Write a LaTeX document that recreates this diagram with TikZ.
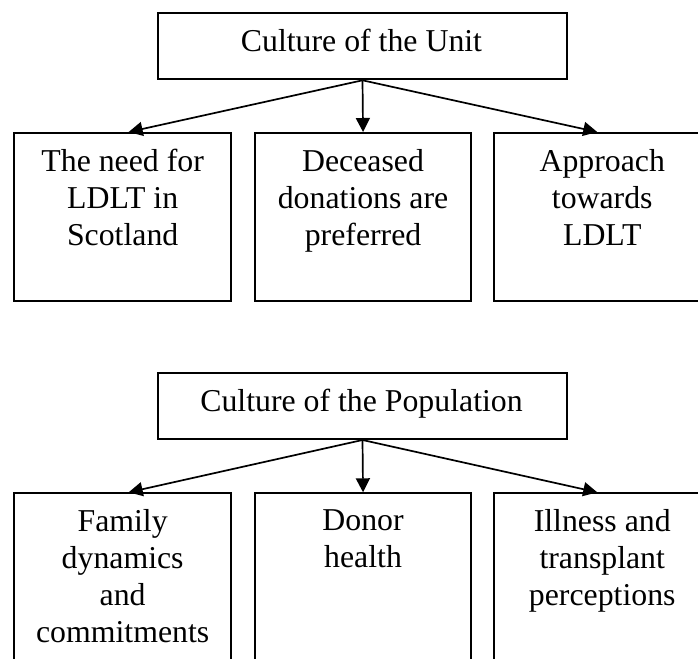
\documentclass[tikz,border=0pt]{standalone}
\usepackage{fontspec}
\setmainfont{Liberation Serif}
\usetikzlibrary{arrows.meta,calc}
\begin{document}
\begin{tikzpicture}[x=1pt,y=-1pt,
  box/.style={draw, line width=2pt, inner sep=0pt, anchor=north west},
  head/.style={box, minimum width=409pt, minimum height=66.3pt},
  child/.style={box, minimum width=216.5pt, minimum height=168pt},
  lowchild/.style={box, minimum width=216.5pt, minimum height=200pt},
  txt/.style={font=\fontsize{31.8}{37}\selectfont, align=center, inner sep=0pt, anchor=north},
  ttl/.style={font=\fontsize{31.8}{37}\selectfont, inner sep=0pt, anchor=base},
  arr/.style={line width=1.7pt, -{Triangle[length=14pt,width=14pt]}}]
\clip (0,0) rectangle (698,658);
\fill[white] (0,0) rectangle (698,658);
% upper group
\node[head] (u) at (157,12) {};
\node[ttl] (ut) at (361.5,51.7) {Culture of the Unit};
\node[child] (a1) at (13.4,132) {};
\node[child] (a2) at (253.8,132) {};
\node[child] (a3) at (493,132) {};
\node[txt] (a1t) at ($(a1.north)+(0,17.2)$) {The need for\\LDLT in\\Scotland};
\node[txt] (a2t) at ($(a2.north)+(0,17.2)$) {Deceased\\donations are\\preferred};
\node[txt] (a3t) at ($(a3.north)+(0,17.2)$) {Approach\\towards\\LDLT};
\draw[arr] (u.south) -- ($(a1.north)+(6,0)$);
\draw[arr] (u.south) -- (a2.north);
\draw[arr] (u.south) -- ($(a3.north)+(-5,0)$);
% lower group
\node[head] (p) at (157,371.7) {};
\node[ttl] (pt) at (361.5,411.7) {Culture of the Population};
\node[lowchild] (b1) at (13.4,492.3) {};
\node[lowchild] (b2) at (253.8,492.3) {};
\node[lowchild] (b3) at (493,492.3) {};
\node[txt] (b1t) at ($(b1.north)+(0,17.2)$) {Family\\dynamics\\and\\commitments};
\node[txt] (b2t) at ($(b2.north)+(0,17.2)$) {Donor\\health};
\node[txt] (b3t) at ($(b3.north)+(0,17.2)$) {Illness and\\transplant\\perceptions};
\draw[arr] (p.south) -- ($(b1.north)+(6,0)$);
\draw[arr] (p.south) -- (b2.north);
\draw[arr] (p.south) -- ($(b3.north)+(-5,0)$);
\end{tikzpicture}
\end{document}
